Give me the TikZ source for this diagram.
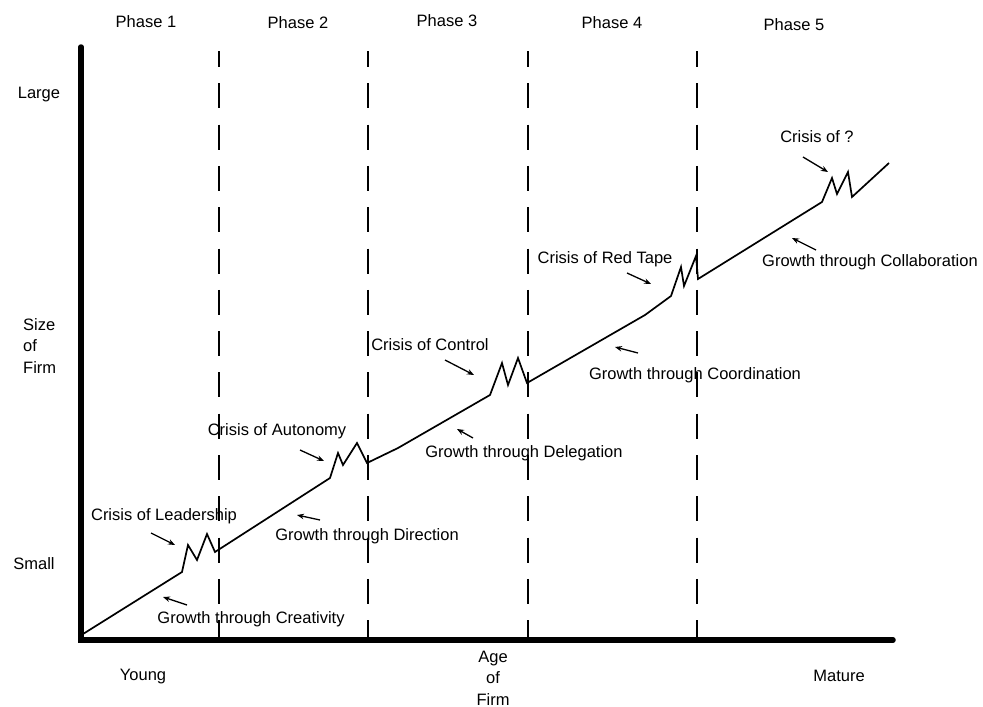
\documentclass[tikz,border=0pt]{standalone}
\usepackage{fontspec}
\setmainfont{Liberation Sans}
\usetikzlibrary{arrows.meta}
\begin{document}
\begin{tikzpicture}
  [x=1pt,y=-1pt,
   every node/.style={inner sep=0pt,font=\fontsize{16.5}{21.5}\selectfont},
   lbl/.style={anchor=base},
   axis/.style={line width=5.5pt,line cap=round},
   phase/.style={line width=1.3pt,dash pattern=on 25pt off 16.3pt,dash phase=9pt},
   curve/.style={line width=1.7pt,line join=miter},
   pointer/.style={line width=1.3pt,-{Stealth[length=7pt,width=5.5pt]}}]
  \useasboundingbox (0,0) rectangle (983,707);

  % phase boundaries and axes
  \foreach \x in {219,368,528,697}
    \draw[phase] (\x,51) -- (\x,640);
  \draw[axis] (81,47) -- (81,640) -- (893,640);

  % phase titles
  \node[lbl] (p1) at (146,27) {Phase 1};
  \node[lbl] (p2) at (298,28) {Phase 2};
  \node[lbl] (p3) at (447,26) {Phase 3};
  \node[lbl] (p4) at (612,28) {Phase 4};
  \node[lbl] (p5) at (794,30) {Phase 5};

  % axis labels (multi-line nodes sit on their last line)
  \node[lbl] (large) at (39,98) {Large};
  \node[anchor=base west,align=left] (size) at (23,373) {Size\\of\\Firm};
  \node[lbl] (small) at (34,569) {Small};
  \node[lbl] (young) at (143,680) {Young};
  \node[lbl,align=center] (age) at (493,705) {Age\\of\\Firm};
  \node[lbl] (mature) at (839,681) {Mature};

  % growth line with the crises
  \draw[curve] (83,634) -- (182,572) -- (188,545) -- (197,560) -- (207,534) -- (215,552)
    -- (330,478) -- (338,453) -- (343,465) -- (357,443) -- (367,463)
    -- (398,448) -- (490,395) -- (502,363) -- (508,385) -- (518,358) -- (527,383)
    -- (645,315) -- (671,296) -- (681,267) -- (684,286) -- (696,256) -- (698,279)
    -- (822,202) -- (832,178) -- (837,194) -- (848,172) -- (852,197) -- (889,163);

  % crises
  \node[lbl] (lead) at (164,520) {Crisis of Leadership};
  \node[lbl] (auto) at (277,435) {Crisis of Autonomy};
  \node[lbl] (ctrl) at (430,350) {Crisis of Control};
  \node[lbl] (tape) at (605,263) {Crisis of Red Tape};
  \node[lbl] (unkn) at (817,142) {Crisis of ?};
  \draw[pointer] (151,533) -- (175,545);
  \draw[pointer] (300,450) -- (324,461);
  \draw[pointer] (445,360) -- (474,375);
  \draw[pointer] (627,273) -- (651,284);
  \draw[pointer] (803,157) -- (828,172);

  % growth phases
  \node[lbl] (creat) at (251,623) {Growth through Creativity};
  \node[lbl] (dir) at (367,540) {Growth through Direction};
  \node[lbl] (deleg) at (524,457) {Growth through Delegation};
  \node[lbl] (coord) at (695,379) {Growth through Coordination};
  \node[lbl] (collab) at (870,266) {Growth through Collaboration};
  \draw[pointer] (187,605) -- (163,597);
  \draw[pointer] (320,520) -- (297,515);
  \draw[pointer] (473,438) -- (457,429);
  \draw[pointer] (638,353) -- (615,347);
  \draw[pointer] (816,250) -- (792,238);
\end{tikzpicture}
\end{document}
